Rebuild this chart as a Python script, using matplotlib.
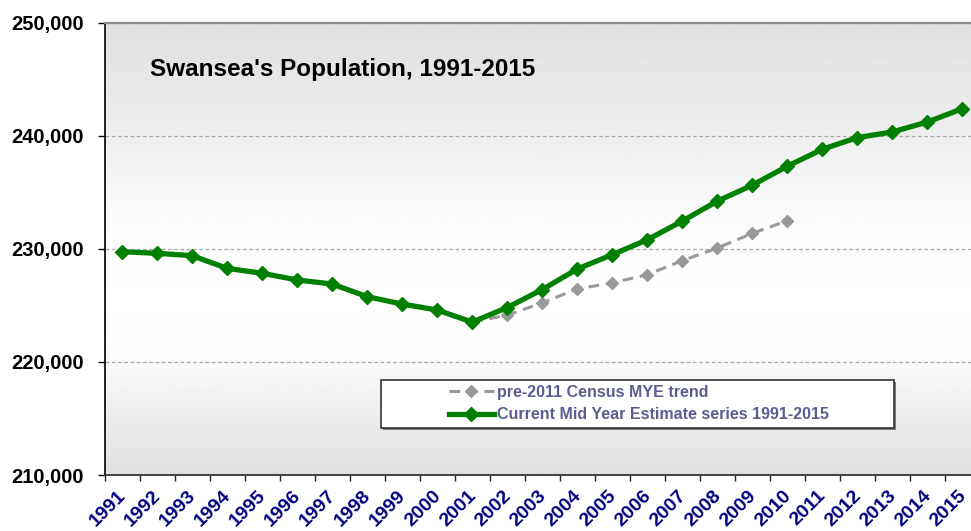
import numpy as np
import matplotlib
matplotlib.use('Agg')
import matplotlib.pyplot as plt
from matplotlib.patches import Rectangle
from matplotlib.ticker import FuncFormatter
from matplotlib.transforms import ScaledTranslation

plt.rcParams['font.family'] = ['Liberation Sans', 'DejaVu Sans']

# Data
years = [str(y) for y in range(1991, 2016)]
mye_current = [229760, 229620, 229410, 228290, 227850, 227260, 226900, 225780,
               225130, 224600, 223530, 224820, 226410, 228230, 229500, 230820,
               232470, 234240, 235650, 237330, 238830, 239860, 240360, 241240,
               242420]
trend_years = [str(y) for y in range(2001, 2011)]
mye_pre2011 = [223530, 224150, 225230, 226470, 227000, 227730, 228970, 230090,
               231390, 232500]
y_ticks = [210000, 220000, 230000, 240000, 250000]

W, H = 971, 531
fig = plt.figure(figsize=(W / 100, H / 100), dpi=100)
fig.patch.set_facecolor('white')

# plot area runs off the right edge, like the original
ax = fig.add_axes([104.5 / W, (H - 475) / H, 875.5 / W, 452 / H])

x_all = np.arange(len(years))
x_trend = np.array([years.index(y) for y in trend_years])

# background gradient: grey at top, near white lower middle, grey at bottom
prof_pos = [0.0, 0.45, 0.62, 0.75, 1.0]
prof_val = [0.875, 0.985, 1.0, 0.98, 0.875]
grad = np.interp(np.linspace(0, 1, 256), prof_pos, prof_val).reshape(-1, 1)
ax.imshow(grad, extent=[0, 1, 0, 1], transform=ax.transAxes, aspect='auto',
          cmap='gray', vmin=0, vmax=1, zorder=0)

line_trend, = ax.plot(x_trend, mye_pre2011, color='#999999', lw=2.2,
                      linestyle=(0, (3.5, 2.2)), marker='D', markersize=6.5,
                      markeredgecolor='#999999', zorder=3)
line_cur, = ax.plot(x_all, mye_current, color='#008000', lw=3.8,
                    marker='D', markersize=7, markeredgecolor='#008000',
                    zorder=4)

ax.set_xlim(-0.5, len(years) - 0.5)
ax.set_ylim(210000, 250000)

# y axis
ax.set_yticks(y_ticks)
ax.yaxis.set_major_formatter(FuncFormatter(lambda v, p: f'{int(v):,}'))
ax.tick_params(axis='y', direction='out', length=5, width=1, pad=10,
               labelsize=14.5, colors='black')
for lab in ax.get_yticklabels():
    lab.set_fontweight('bold')
ax.yaxis.grid(True, linestyle=(0, (3, 2)), color='#a8a8a8', lw=0.9)
ax.set_axisbelow(True)

# x axis: tick marks between categories, labels on categories
ax.set_xticks(np.arange(-0.5, len(years), 1.0))
ax.set_xticklabels([])
ax.set_xticks(x_all, minor=True)
ax.set_xticklabels(years, minor=True, rotation=45, ha='right', va='top',
                   rotation_mode='anchor', color='#000080',
                   fontweight='bold', fontsize=14)
ax.tick_params(axis='x', which='major', direction='out', length=4.5, width=1,
               color='#222222')
ax.tick_params(axis='x', which='minor', length=0, pad=9)
shift = ScaledTranslation(-5 / 100, 0, fig.dpi_scale_trans)
for lab in ax.get_xticklabels(minor=True):
    lab.set_transform(lab.get_transform() + shift)

ax.spines['right'].set_visible(False)
ax.spines['left'].set_color('#111111')
ax.spines['left'].set_linewidth(1.3)
ax.spines['bottom'].set_color('#333333')
ax.spines['bottom'].set_linewidth(1.3)
ax.spines['top'].set_color('#8a8a8a')
ax.spines['top'].set_linewidth(1.6)

fig.text(150 / W, 1 - 76 / H, "Swansea's Population, 1991-2015",
         fontsize=17.5, fontweight='bold', color='black', va='baseline')

# legend box
fig.patches.append(Rectangle((383 / W, 1 - 430 / H), 513 / W, 48 / H,
                             transform=fig.transFigure, facecolor='#7a7a7a',
                             edgecolor='none', zorder=3.8))
fig.patches.append(Rectangle((381 / W, 1 - 428 / H), 513 / W, 48 / H,
                             transform=fig.transFigure, facecolor='white',
                             edgecolor='#333333', lw=1.2, zorder=4))
fig.legend([line_trend, line_cur],
           ['pre-2011 Census MYE trend',
            'Current Mid Year Estimate series 1991-2015'],
           loc='center left', bbox_to_anchor=(449 / W, 1 - 403.5 / H),
           frameon=False, borderpad=0, borderaxespad=0,
           handlelength=2.8, handletextpad=0.2, labelspacing=0.5,
           prop={'weight': 'bold', 'size': 11.5}, labelcolor='#5c5c92')

fig.savefig('out.png', dpi=100)
